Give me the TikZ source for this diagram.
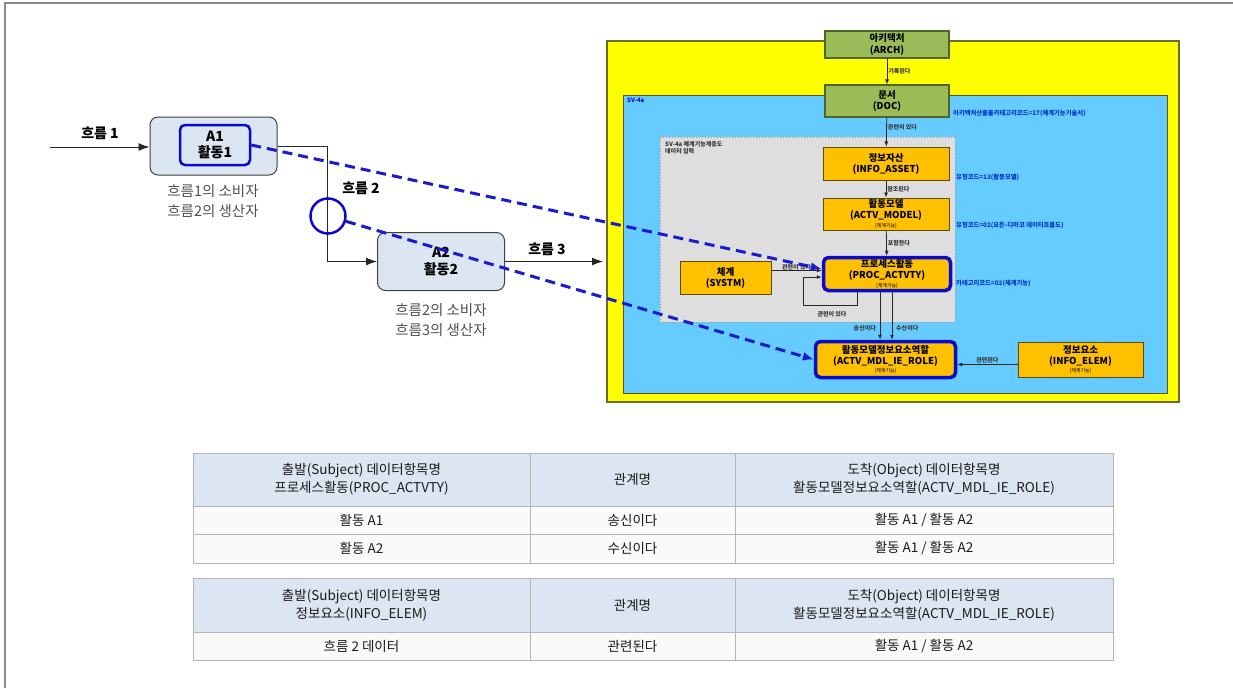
\documentclass[tikz,border=0pt]{standalone}
\usepackage{fontspec}
\setmainfont{Noto Sans CJK KR}
\usetikzlibrary{arrows.meta,calc}
\definecolor{ylw}{HTML}{FFFF00}
\definecolor{ylwb}{HTML}{6B6B2F}
\definecolor{sky}{HTML}{66CCFF}
\definecolor{grn}{HTML}{9BBB59}
\definecolor{grnb}{HTML}{4F6228}
\definecolor{org}{HTML}{FFC000}
\definecolor{orgb}{HTML}{5A4A10}
\definecolor{gbox}{HTML}{DEDEDE}
\definecolor{dblue}{HTML}{0A0ACC}
\definecolor{dash}{HTML}{1A1ACF}
\definecolor{lbl}{HTML}{0033CC}
\definecolor{abox}{HTML}{DCE6F2}
\definecolor{hdr}{HTML}{DCE6F2}
\definecolor{tline}{HTML}{B4B4B4}
\definecolor{gtxt}{HTML}{505050}
\tikzset{
  arr/.style={-{Latex[length=5pt,width=4pt]},line width=0.8pt,black!85},
  arrL/.style={-{Latex[length=11pt,width=8pt]},line width=1pt,black!85},
  gbx/.style={draw=grnb,fill=grn,line width=1.2pt,minimum width=124pt,align=center,font=\fontsize{9.5}{11.5}\selectfont\bfseries,inner sep=1pt},
  obx/.style={draw=orgb,fill=org,line width=1pt,align=center,font=\fontsize{9.5}{11}\selectfont\bfseries,inner sep=1pt},
  thk/.style={draw=dblue,line width=3.5pt,rounded corners=5pt},
  tiny/.style={font=\fontsize{6}{6.5}\selectfont\bfseries,text=black!80,inner sep=1pt},
  blbl/.style={font=\fontsize{6.3}{7}\selectfont\bfseries,text=lbl,anchor=west,inner sep=0pt},
  actbox/.style={draw=black!75,fill=abox,line width=1pt,rounded corners=8pt,minimum width=127pt,minimum height=58pt,align=center,font=\fontsize{14}{17}\selectfont\bfseries},
  note/.style={font=\fontsize{14.5}{20}\selectfont,text=gtxt,align=center},
  flow/.style={font=\fontsize{14}{16}\selectfont\bfseries},
  dsh/.style={draw=dash,line width=3pt,dash pattern=on 10pt off 6pt,-{Latex[length=11pt,width=9pt]}},
  cell/.style={draw=tline,line width=0.8pt,minimum height=#1,inner sep=2pt,align=center,font=\fontsize{13.5}{18}\selectfont,text=black!90},
  c1/.style={minimum width=337pt},
  c2/.style={minimum width=205pt},
  c3/.style={minimum width=378pt}
}
\begin{document}
\begin{tikzpicture}[x=1pt,y=-1pt]
\useasboundingbox (0,0) rectangle (1233,688);
% frame
\draw[black!45,line width=1.5pt] (5,688) -- (5,3) -- (1233,3);
% containers
\node[draw=ylwb,fill=ylw,line width=1.2pt,minimum width=572pt,minimum height=361pt,inner sep=0pt] (yb) at (607+286,41+180.5) {};
\node[draw=ylwb!80!black,fill=sky,line width=1pt,minimum width=544pt,minimum height=298pt,inner sep=0pt] (bb) at (623+272,95+149) {};
\node[anchor=north west,font=\fontsize{6}{7}\selectfont\bfseries,text=dblue,inner sep=0pt] (sv) at (627,98) {SV-4a};
\node[draw=black!40,dotted,fill=gbox,line width=1pt,minimum width=295pt,minimum height=185pt,inner sep=0pt] (gb) at (660+147.5,137+92.5) {};
\node[anchor=north west,align=left,font=\fontsize{6}{7}\selectfont\bfseries,text=black!80,inner sep=0pt] (gbl) at (665,141) {SV-4a 체계기능계층도\\데이터 입력};
% boxes
\node[gbx,minimum height=27pt] (arch) at (887,44.5) {아키텍처\\(ARCH)};
\node[gbx,minimum height=32pt] (doc) at (887,101) {문서\\(DOC)};
\node[obx,minimum width=126pt,minimum height=33pt] (asset) at (886,163.5) {정보자산\\(INFO\_ASSET)};
\node[obx,minimum width=126pt,minimum height=32pt] (model) at (886,214) {활동모델\\(ACTV\_MODEL)\\[-2.5pt]{\fontsize{5}{5}\selectfont\mdseries (체계기능)}};
\node[obx,thk,minimum width=127pt,minimum height=33pt] (proc) at (887,274) {프로세스활동\\(PROC\_ACTVTY)\\[-2.5pt]{\fontsize{5}{5}\selectfont\mdseries (체계기능)}};
\node[obx,minimum width=91pt,minimum height=33pt] (systm) at (725.5,277.5) {체계\\(SYSTM)};
\node[obx,thk,minimum width=140pt,minimum height=36pt] (role) at (885.5,359.5) {활동모델정보요소역할\\(ACTV\_MDL\_IE\_ROLE)\\[-2.5pt]{\fontsize{5}{5}\selectfont\mdseries (체계기능)}};
\node[obx,minimum width=125pt,minimum height=35pt] (elem) at (1080.5,359.5) {정보요소\\(INFO\_ELEM)\\[-2.5pt]{\fontsize{5}{5}\selectfont\mdseries (체계기능)}};
% connectors in SV-4a
\draw[arr] (arch) -- (doc) node[midway,right,tiny] {기록된다};
\draw[arr] (doc) -- (asset) node[midway,right,tiny,pos=0.35] {관련이 있다};
\draw[arr] (asset) -- (model) node[midway,right,tiny] {참조된다};
\draw[arr] (model) -- (proc) node[midway,right,tiny] {포함한다};
\coordinate (s1) at ($(systm.east)+(0,-7)$);
\draw[arr] (s1) -- (s1 -| proc.west) node[midway,above,tiny,yshift=-1pt] {관련이 있다};
\coordinate (l1) at (803,305);
\draw[arr] ([xshift=-30pt]proc.south) |- (l1) |- ([yshift=-3pt]proc.west);
\node[tiny] (lbl1) at (832,314) {관련이 있다};
\draw[arr] ([xshift=-7pt]proc.south) -- ([xshift=-7pt]proc.south |- role.north);
\draw[arr] ([xshift=5pt]proc.south) -- ([xshift=5pt]proc.south |- role.north);
\node[tiny,anchor=east] (snd) at (877,328) {송신이다};
\node[tiny,anchor=west] (rcv) at (895,328) {수신이다};
\draw[arr] ([yshift=-5pt]elem.west) -- ([yshift=-5pt]elem.west -| role.east) node[midway,above,tiny] {관련된다};
% right blue labels
\node[blbl] (r1) at (953,113) {아키텍처산출물카테고리코드=17(체계기능기술서)};
\node[blbl] (r2) at (956,177) {유형코드=13(활동모델)};
\node[blbl] (r3) at (956,225) {유형코드=02(요든-디마코 데이터흐름도)};
\node[blbl] (r4) at (956,283) {카테고리코드=02(체계기능)};
% left activity diagram
\node[actbox] (a1) at (213.5,146) {};
\node[draw=dblue,fill=abox,line width=2.5pt,rounded corners=5pt,minimum width=70pt,minimum height=40pt,align=center,font=\fontsize{14}{16}\selectfont\bfseries,inner sep=0pt] (a1in) at (215,145) {A1\\활동1};
\node[note] (n1) at (213,201) {흐름1의 소비자\\흐름2의 생산자};
\coordinate (in1) at (50,147);
\draw[arrL] (in1) -- (in1 -| a1.west);
\node[flow] (f1) at (100,133) {흐름 1};
\node[actbox] (a2) at (441,261.5) {A2\\활동2};
\node[note] (n2) at (441,320) {흐름2의 소비자\\흐름3의 생산자};
\coordinate (bend) at (327,0);
\draw[arrL] (a1.east) -| (bend |- a2.west) -- (a2.west);
\node[draw=dblue,line width=2.5pt,circle,minimum size=35pt,inner sep=0pt] (c2) at (328,216) {};
\node[flow] (f2) at (361,188) {흐름 2};
\coordinate (out3) at (603,0);
\draw[arrL] (a2.east) -- (out3 |- a2.east);
\node[flow] (f3) at (547,249) {흐름 3};
% dashed links
\draw[dsh] (a1in.east) -- ([yshift=5pt]proc.west);
\draw[dsh] (c2) -- (role.west);
% table 1
\node[cell=53pt,c1,fill=hdr] (t1a) at (361.5,479.5) {출발(Subject) 데이터항목명\\프로세스활동(PROC\_ACTVTY)};
\node[cell=53pt,c2,fill=hdr] (t1b) at (632.5,479.5) {관계명};
\node[cell=53pt,c3,fill=hdr] (t1c) at (924,479.5) {도착(Object) 데이터항목명\\활동모델정보요소역할(ACTV\_MDL\_IE\_ROLE)};
\node[cell=28pt,c1,fill=black!2] (t1d) at (361.5,520) {활동 A1};
\node[cell=28pt,c2,fill=black!2] (t1e) at (632.5,520) {송신이다};
\node[cell=28pt,c3,fill=black!2] (t1f) at (924,520) {활동 A1 / 활동 A2};
\node[cell=29pt,c1,fill=black!2] (t1g) at (361.5,548.5) {활동 A2};
\node[cell=29pt,c2,fill=black!2] (t1h) at (632.5,548.5) {수신이다};
\node[cell=29pt,c3,fill=black!2] (t1i) at (924,548.5) {활동 A1 / 활동 A2};
% table 2
\node[cell=54pt,c1,fill=hdr] (t2a) at (361.5,605) {출발(Subject) 데이터항목명\\정보요소(INFO\_ELEM)};
\node[cell=54pt,c2,fill=hdr] (t2b) at (632.5,605) {관계명};
\node[cell=54pt,c3,fill=hdr] (t2c) at (924,605) {도착(Object) 데이터항목명\\활동모델정보요소역할(ACTV\_MDL\_IE\_ROLE)};
\node[cell=28pt,c1,fill=black!2] (t2d) at (361.5,646) {흐름 2 데이터};
\node[cell=28pt,c2,fill=black!2] (t2e) at (632.5,646) {관련된다};
\node[cell=28pt,c3,fill=black!2] (t2f) at (924,646) {활동 A1 / 활동 A2};
\end{tikzpicture}
\end{document}
